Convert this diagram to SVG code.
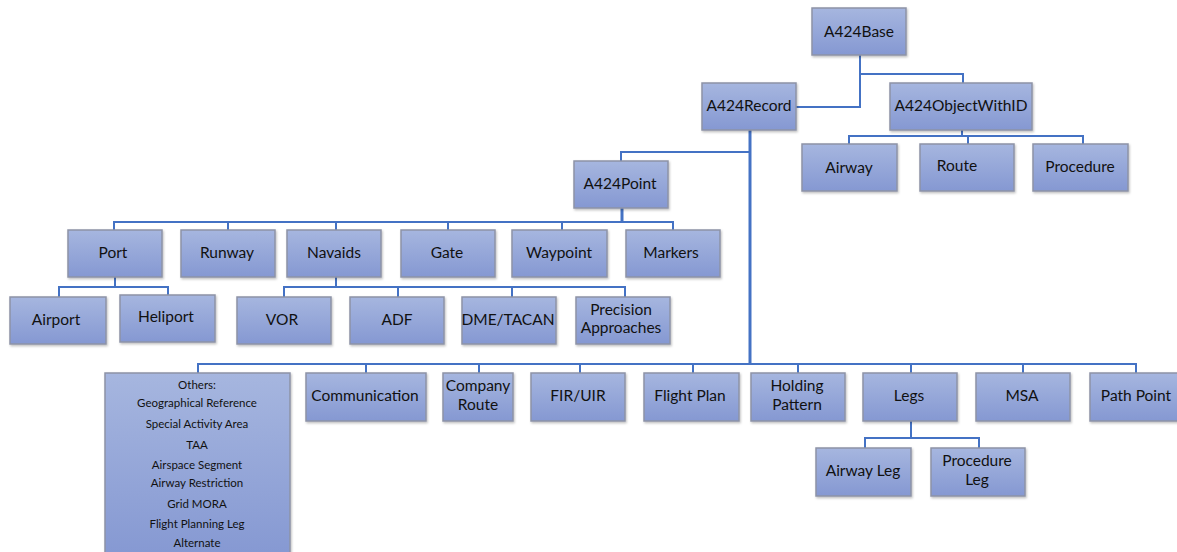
<svg xmlns="http://www.w3.org/2000/svg" width="1177" height="552" viewBox="0 0 1177 552">
<defs>
<linearGradient id="g" x1="0" y1="0" x2="0" y2="1">
<stop offset="0" stop-color="#a6b6df"/>
<stop offset="1" stop-color="#8598d2"/>
</linearGradient>
<filter id="sh" x="-10%" y="-10%" width="130%" height="130%">
<feDropShadow dx="1" dy="1.5" stdDeviation="1" flood-color="#000" flood-opacity="0.25"/>
</filter>
</defs>
<style>
.n rect{fill:url(#g);stroke:#8d93a6;stroke-width:1.5;filter:url(#sh)}
.n text{font-family:Lato,"Open Sans","Liberation Sans",sans-serif;font-size:15.5px;fill:#111;text-anchor:middle}
.n text.s{font-size:11.5px}
#connectors path{fill:none;stroke:#4472c4;stroke-width:2}
#connectors path.t{stroke-width:3}
</style>
<rect width="1177" height="552" fill="#fff"/>
<g id="connectors">
<path d="M860 55V107H796M860 74H963V83"/>
<path d="M962 130V136M849 144V136H1083V144M968 136V144"/>
<path class="t" d="M750 130V364"/>
<path d="M750 152H621V161"/>
<path class="t" d="M622 208V222"/>
<path d="M114 230V222H673V230M228 222V230M336 222V230M448 222V230M562 222V230"/>
<path d="M115 277V287M59 297V287H168V295"/>
<path d="M336 277V287M284 297V287H625V297M398 287V297M512 287V297"/>
<path d="M198 373V364H1136V373M366 364V373M479 364V373M580 364V373M693 364V373M798 364V373M911 364V373M1023 364V373"/>
<path d="M911 421V438M865 448V438H979V448"/>
</g>
<g id="A424Base" class="n"><rect x="812" y="8" width="94" height="47"/><text x="859" y="37">A424Base</text></g>
<g id="A424Record" class="n"><rect x="702" y="83" width="94" height="47"/><text x="749" y="111">A424Record</text></g>
<g id="A424ObjectWithID" class="n"><rect x="890" y="83" width="142" height="47"/><text x="961" y="111">A424ObjectWithID</text></g>
<g id="Airway" class="n"><rect x="802" y="144" width="95" height="47"/><text x="849" y="173">Airway</text></g>
<g id="Route" class="n"><rect x="920" y="144" width="94" height="47"/><text x="957" y="171">Route</text></g>
<g id="Procedure" class="n"><rect x="1033" y="144" width="95" height="47"/><text x="1080" y="172">Procedure</text></g>
<g id="A424Point" class="n"><rect x="574" y="161" width="94" height="47"/><text x="620" y="189">A424Point</text></g>
<g id="Port" class="n"><rect x="68" y="230" width="94" height="47"/><text x="113" y="258">Port</text></g>
<g id="Runway" class="n"><rect x="181" y="230" width="94" height="47"/><text x="227" y="258">Runway</text></g>
<g id="Navaids" class="n"><rect x="287" y="230" width="94" height="47"/><text x="334" y="258">Navaids</text></g>
<g id="Gate" class="n"><rect x="401" y="230" width="94" height="47"/><text x="447" y="258">Gate</text></g>
<g id="Waypoint" class="n"><rect x="512" y="230" width="95" height="47"/><text x="559" y="258">Waypoint</text></g>
<g id="Markers" class="n"><rect x="626" y="230" width="94" height="47"/><text x="671" y="258">Markers</text></g>
<g id="Airport" class="n"><rect x="10" y="297" width="96" height="47"/><text x="56" y="325">Airport</text></g>
<g id="Heliport" class="n"><rect x="120" y="295" width="95" height="47"/><text x="166" y="322">Heliport</text></g>
<g id="VOR" class="n"><rect x="237" y="297" width="94" height="47"/><text x="282" y="325">VOR</text></g>
<g id="ADF" class="n"><rect x="350" y="297" width="94" height="47"/><text x="397" y="325">ADF</text></g>
<g id="DME_TACAN" class="n"><rect x="462" y="297" width="94" height="47"/><text x="508" y="325">DME/TACAN</text></g>
<g id="Precision_Approaches" class="n"><rect x="576" y="297" width="94" height="47"/><text x="621" y="315">Precision</text><text x="621" y="333">Approaches</text></g>
<g id="Others" class="n"><rect x="105" y="373" width="185" height="185"/>
<text class="s" x="197" y="389">Others:</text>
<text class="s" x="197" y="407">Geographical Reference</text>
<text class="s" x="197" y="428">Special Activity Area</text>
<text class="s" x="197" y="449">TAA</text>
<text class="s" x="197" y="469">Airspace Segment</text>
<text class="s" x="197" y="487">Airway Restriction</text>
<text class="s" x="197" y="508">Grid MORA</text>
<text class="s" x="197" y="528">Flight Planning Leg</text>
<text class="s" x="197" y="547">Alternate</text>
</g>
<g id="Communication" class="n"><rect x="306" y="373" width="120" height="48"/><text x="365" y="401">Communication</text></g>
<g id="Company_Route" class="n"><rect x="443" y="373" width="70" height="48"/><text x="478" y="391">Company</text><text x="478" y="410">Route</text></g>
<g id="FIR_UIR" class="n"><rect x="531" y="373" width="94" height="48"/><text x="578" y="401">FIR/UIR</text></g>
<g id="Flight_Plan" class="n"><rect x="644" y="373" width="95" height="48"/><text x="690" y="401">Flight Plan</text></g>
<g id="Holding_Pattern" class="n"><rect x="751" y="373" width="94" height="48"/><text x="797" y="391">Holding</text><text x="797" y="410">Pattern</text></g>
<g id="Legs" class="n"><rect x="863" y="373" width="94" height="48"/><text x="909" y="401">Legs</text></g>
<g id="MSA" class="n"><rect x="976" y="373" width="94" height="48"/><text x="1022" y="401">MSA</text></g>
<g id="Path_Point" class="n"><rect x="1090" y="373" width="94" height="48"/><text x="1136" y="401">Path Point</text></g>
<g id="Airway_Leg" class="n"><rect x="816" y="448" width="95" height="48"/><text x="863" y="476">Airway Leg</text></g>
<g id="Procedure_Leg" class="n"><rect x="931" y="448" width="94" height="48"/><text x="977" y="466">Procedure</text><text x="977" y="485">Leg</text></g>
</svg>
